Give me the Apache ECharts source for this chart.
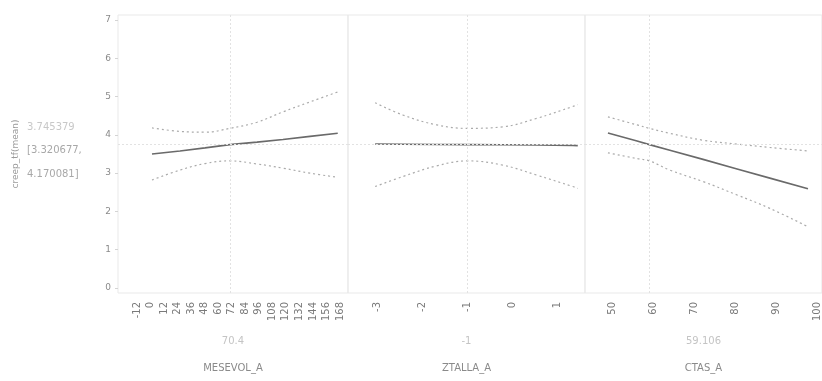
<!DOCTYPE html>
<html>
<head>
<meta charset="utf-8">
<script src="https://cdn.jsdelivr.net/npm/echarts@6/dist/echarts.min.js"></script>
<style>
  html, body { margin: 0; padding: 0; background: #fff; }
  #chart { width: 822px; height: 381px; }
</style>
</head>
<body>
<div id="chart"></div>
<script>
// Prediction profiler: creep_tf(mean) against three factors.

const RESPONSE_NAME = 'creep_tf(mean)';
const PRED_NOW = 3.745379;
const CI_NOW = [3.320677, 4.170081];
const Y_TICKS = [0, 1, 2, 3, 4, 5, 6, 7];

// MESEVOL_A
const MESEVOL_TICKS = [-12, 0, 12, 24, 36, 48, 60, 72, 84, 96, 108, 120, 132, 144, 156, 168];
const MESEVOL_NOW = 70.4;
const MESEVOL_X     = [1.3, 26.1, 48.3, 70.4, 94.4, 117.4, 141.4, 166];
const MESEVOL_PRED  = [3.50, 3.58, 3.66, 3.745, 3.81, 3.88, 3.96, 4.04];
const MESEVOL_UPPER = [4.18, 4.09, 4.07, 4.17, 4.33, 4.60, 4.86, 5.12];
const MESEVOL_LOWER = [2.82, 3.08, 3.25, 3.32, 3.24, 3.13, 3.00, 2.89];

// ZTALLA_A
const ZTALLA_TICKS = [-3, -2, -1, 0, 1];
const ZTALLA_NOW = -1;
const ZTALLA_X     = [-3.04, -2.43, -1.68, -1, -0.22, 0.53, 1.33, 1.44];
const ZTALLA_PRED  = [3.76, 3.755, 3.75, 3.745, 3.74, 3.735, 3.725, 3.72];
const ZTALLA_UPPER = [4.84, 4.52, 4.26, 4.17, 4.21, 4.43, 4.74, 4.79];
const ZTALLA_LOWER = [2.65, 2.91, 3.19, 3.32, 3.21, 2.95, 2.65, 2.60];

// CTAS_A
const CTAS_TICKS = [50, 60, 70, 80, 90, 100];
const CTAS_NOW = 59.106;
const CTAS_X     = [49.0, 56.1, 59.106, 64.1, 72.2, 80.5, 88.5, 97.8];
const CTAS_PRED  = [4.05, 3.84, 3.745, 3.60, 3.36, 3.11, 2.87, 2.59];
const CTAS_UPPER = [4.47, 4.26, 4.17, 4.04, 3.86, 3.76, 3.67, 3.58];
const CTAS_LOWER = [3.53, 3.38, 3.32, 3.08, 2.78, 2.43, 2.08, 1.60];

// Layout of the three profiler cells
const PANEL_EDGES = [118, 348, 585, 822];
const FRAME_TOP = 15;
const FRAME_BOTTOM = 293;
const Y_RANGE = [-0.13, 7.13];
const X_RANGES = [[-28.85, 175.1], [-3.64, 1.6], [43.4, 101.2]];

const panels = [
  { name: 'MESEVOL_A', ticks: MESEVOL_TICKS, now: MESEVOL_NOW, x: MESEVOL_X, pred: MESEVOL_PRED, upper: MESEVOL_UPPER, lower: MESEVOL_LOWER },
  { name: 'ZTALLA_A', ticks: ZTALLA_TICKS, now: ZTALLA_NOW, x: ZTALLA_X, pred: ZTALLA_PRED, upper: ZTALLA_UPPER, lower: ZTALLA_LOWER },
  { name: 'CTAS_A', ticks: CTAS_TICKS, now: CTAS_NOW, x: CTAS_X, pred: CTAS_PRED, upper: CTAS_UPPER, lower: CTAS_LOWER }
];

const FONT = 'DejaVu Sans';
const pair = (xs, ys) => xs.map((v, i) => [v, ys[i]]);

const grids = [], xAxes = [], yAxes = [], series = [], texts = [];

panels.forEach((p, i) => {
  const left = PANEL_EDGES[i];
  const width = PANEL_EDGES[i + 1] - left;
  grids.push({
    left: left, width: width, top: FRAME_TOP, height: FRAME_BOTTOM - FRAME_TOP,
    show: true, borderColor: '#e9e9e9', borderWidth: 1, backgroundColor: 'transparent'
  });
  xAxes.push({
    type: 'value', gridIndex: i, min: X_RANGES[i][0], max: X_RANGES[i][1],
    name: p.name, nameLocation: 'middle', nameGap: 70,
    nameTextStyle: { color: '#8a8a8a', fontSize: 10, fontFamily: FONT },
    axisLine: { show: false, onZero: false },
    axisTick: { show: false },
    splitLine: { show: false },
    axisLabel: {
      customValues: p.ticks, rotate: 90, margin: 9,
      color: '#7a7a7a', fontSize: 10, fontFamily: FONT
    }
  });
  yAxes.push({
    type: 'value', gridIndex: i, min: Y_RANGE[0], max: Y_RANGE[1],
    name: i === 0 ? RESPONSE_NAME : '',
    nameLocation: 'middle', nameRotate: 90, nameGap: 98,
    nameTextStyle: { color: '#9a9a9a', fontSize: 9, fontFamily: FONT },
    axisLine: { show: false, onZero: false },
    splitLine: { show: false },
    axisTick: { show: i === 0, customValues: Y_TICKS, length: 3, lineStyle: { color: '#d4d4d4' } },
    axisLabel: {
      show: i === 0, customValues: Y_TICKS, margin: 7,
      color: '#8a8a8a', fontSize: 9, fontFamily: FONT
    }
  });

  series.push({
    type: 'line', xAxisIndex: i, yAxisIndex: i, data: pair(p.x, p.upper),
    smooth: 0.4, symbol: 'none', silent: true, z: 2,
    lineStyle: { color: '#ababab', width: 1.2, type: [2, 3] }
  });
  series.push({
    type: 'line', xAxisIndex: i, yAxisIndex: i, data: pair(p.x, p.lower),
    smooth: 0.4, symbol: 'none', silent: true, z: 2,
    lineStyle: { color: '#ababab', width: 1.2, type: [2, 3] }
  });
  series.push({
    type: 'line', xAxisIndex: i, yAxisIndex: i, data: pair(p.x, p.pred),
    symbol: 'none', silent: true, z: 3,
    lineStyle: { color: '#6a6a6a', width: 1.6 },
    markLine: {
      silent: true, symbol: 'none', label: { show: false },
      lineStyle: { color: '#e2e2e2', width: 1, type: [2, 2] },
      data: [{ xAxis: p.now }, { yAxis: PRED_NOW }]
    }
  });

  // current factor setting, centred under its cell
  texts.push({
    type: 'text', x: left + width / 2, y: 336,
    style: { text: String(p.now), fill: '#c4c4c4', font: '10px "' + FONT + '"', align: 'center' }
  });
});

// Current prediction and its interval, left of the axis
const valueLines = [
  PRED_NOW.toFixed(6),
  '[' + CI_NOW[0].toFixed(6) + ',',
  CI_NOW[1].toFixed(6) + ']'
];
valueLines.forEach((t, k) => {
  texts.push({
    type: 'text', x: 27, y: 122 + k * 23.5,
    style: { text: t, fill: k === 0 ? '#c8c8c8' : '#a8a8a8', font: '10px "' + FONT + '"' }
  });
});

const chart = echarts.init(document.getElementById('chart'), null, { renderer: 'canvas' });
chart.setOption({
  animation: false,
  backgroundColor: '#ffffff',
  grid: grids,
  xAxis: xAxes,
  yAxis: yAxes,
  series: series,
  graphic: texts
});
</script>
</body>
</html>
